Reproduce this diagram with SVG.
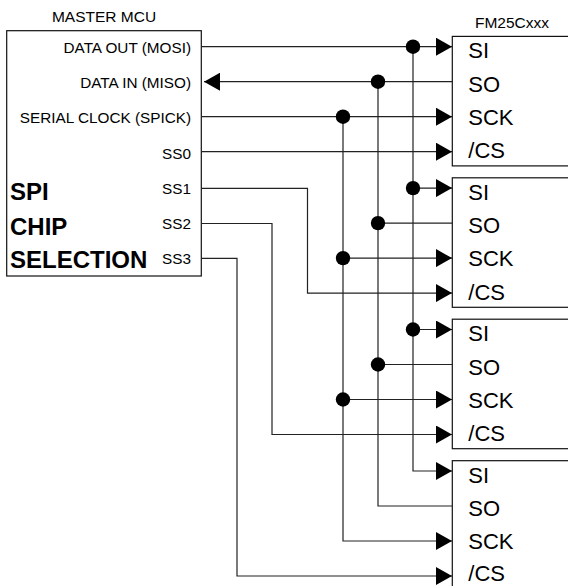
<svg xmlns="http://www.w3.org/2000/svg" width="568" height="586" viewBox="0 0 568 586">
<defs>
<style>
.box{fill:#fff;stroke:#111;stroke-width:1.2}
.w{fill:none;stroke:#222;stroke-width:1.2}
.dot{fill:#000}
.t{font-family:"Liberation Sans",Arial,sans-serif;font-size:15.5px;fill:#000}
.pl{font-family:"Liberation Sans",Arial,sans-serif;font-size:15.3px;fill:#000;text-anchor:end}
.big{font-family:"Liberation Sans",Arial,sans-serif;font-size:24px;font-weight:bold;fill:#000}
.cp{font-family:"Liberation Sans",Arial,sans-serif;font-size:22px;fill:#000}
</style>
<marker id="arr" markerUnits="userSpaceOnUse" viewBox="0 0 16 18" markerWidth="16" markerHeight="18" refX="16" refY="9" orient="auto">
<path d="M0,0 L16,9 L0,18 z" fill="#000"/>
</marker>
</defs>
<rect width="568" height="586" fill="#fff"/>

<g id="master">
<text class="t" x="104" y="21.7" text-anchor="middle">MASTER MCU</text>
<rect class="box" x="6.7" y="30.7" width="194.6" height="245.3"/>
<text class="pl" x="191" y="53.3">DATA OUT (MOSI)</text>
<text class="pl" x="191" y="88.3">DATA IN (MISO)</text>
<text class="pl" x="191" y="123.3">SERIAL CLOCK (SPICK)</text>
<text class="pl" x="191" y="158.8">SS0</text>
<text class="pl" x="191" y="194.3">SS1</text>
<text class="pl" x="191" y="229.3">SS2</text>
<text class="pl" x="191" y="264">SS3</text>
<text class="big" x="10" y="200">SPI</text>
<text class="big" x="10" y="235">CHIP</text>
<text class="big" x="10" y="268.3">SELECTION</text>
</g>

<g id="chip1">
<text class="t" x="512" y="27.7" text-anchor="middle">FM25Cxxx</text>
<rect class="box" x="452.3" y="36.4" width="200" height="129.5"/>
<text class="cp" x="468.3" y="58.4">SI</text>
<text class="cp" x="468.3" y="91.7">SO</text>
<text class="cp" x="468.3" y="125">SCK</text>
<text class="cp" x="468.3" y="158.3">/CS</text>
</g>
<g id="chip2">
<rect class="box" x="452.3" y="177.8" width="200" height="129.5"/>
<text class="cp" x="468.3" y="199.8">SI</text>
<text class="cp" x="468.3" y="233.1">SO</text>
<text class="cp" x="468.3" y="266.4">SCK</text>
<text class="cp" x="468.3" y="299.7">/CS</text>
</g>
<g id="chip3">
<rect class="box" x="452.3" y="319.2" width="200" height="129.5"/>
<text class="cp" x="468.3" y="341.2">SI</text>
<text class="cp" x="468.3" y="374.5">SO</text>
<text class="cp" x="468.3" y="407.8">SCK</text>
<text class="cp" x="468.3" y="441.1">/CS</text>
</g>
<g id="chip4">
<rect class="box" x="452.3" y="460.7" width="200" height="129.5"/>
<text class="cp" x="468.3" y="482.7">SI</text>
<text class="cp" x="468.3" y="516">SO</text>
<text class="cp" x="468.3" y="549.3">SCK</text>
<text class="cp" x="468.3" y="580.5">/CS</text>
</g>

<g id="connectors">
<!-- MOSI -->
<path class="w" d="M201.3,46.7 H452" marker-end="url(#arr)"/>
<path class="w" d="M413,46.7 V471 H452" marker-end="url(#arr)"/>
<path class="w" d="M413,188.1 H452" marker-end="url(#arr)"/>
<path class="w" d="M413,329.5 H452" marker-end="url(#arr)"/>
<!-- MISO -->
<path class="w" d="M452,81.7 H204" marker-end="url(#arr)"/>
<path class="w" d="M378,81.7 V506 H452.3"/>
<path class="w" d="M378,223.1 H452.3"/>
<path class="w" d="M378,364.5 H452.3"/>
<!-- SCK -->
<path class="w" d="M201.3,116.7 H452" marker-end="url(#arr)"/>
<path class="w" d="M343,116.7 V541 H452" marker-end="url(#arr)"/>
<path class="w" d="M343,258.1 H452" marker-end="url(#arr)"/>
<path class="w" d="M343,399.5 H452" marker-end="url(#arr)"/>
<!-- chip selects -->
<path class="w" d="M201.3,151.7 H452" marker-end="url(#arr)"/>
<path class="w" d="M201.3,188.3 H307.5 V293.1 H452" marker-end="url(#arr)"/>
<path class="w" d="M201.3,223.5 H272 V434.5 H452" marker-end="url(#arr)"/>
<path class="w" d="M201.3,258.3 H237 V576 H452" marker-end="url(#arr)"/>
<!-- junction dots -->
<circle class="dot" cx="413" cy="46.7" r="7.2"/>
<circle class="dot" cx="413" cy="188.1" r="7.2"/>
<circle class="dot" cx="413" cy="329.5" r="7.2"/>
<circle class="dot" cx="378" cy="81.7" r="7.2"/>
<circle class="dot" cx="378" cy="223.1" r="7.2"/>
<circle class="dot" cx="378" cy="364.5" r="7.2"/>
<circle class="dot" cx="343" cy="116.7" r="7.2"/>
<circle class="dot" cx="343" cy="258.1" r="7.2"/>
<circle class="dot" cx="343" cy="399.5" r="7.2"/>
</g>
</svg>
